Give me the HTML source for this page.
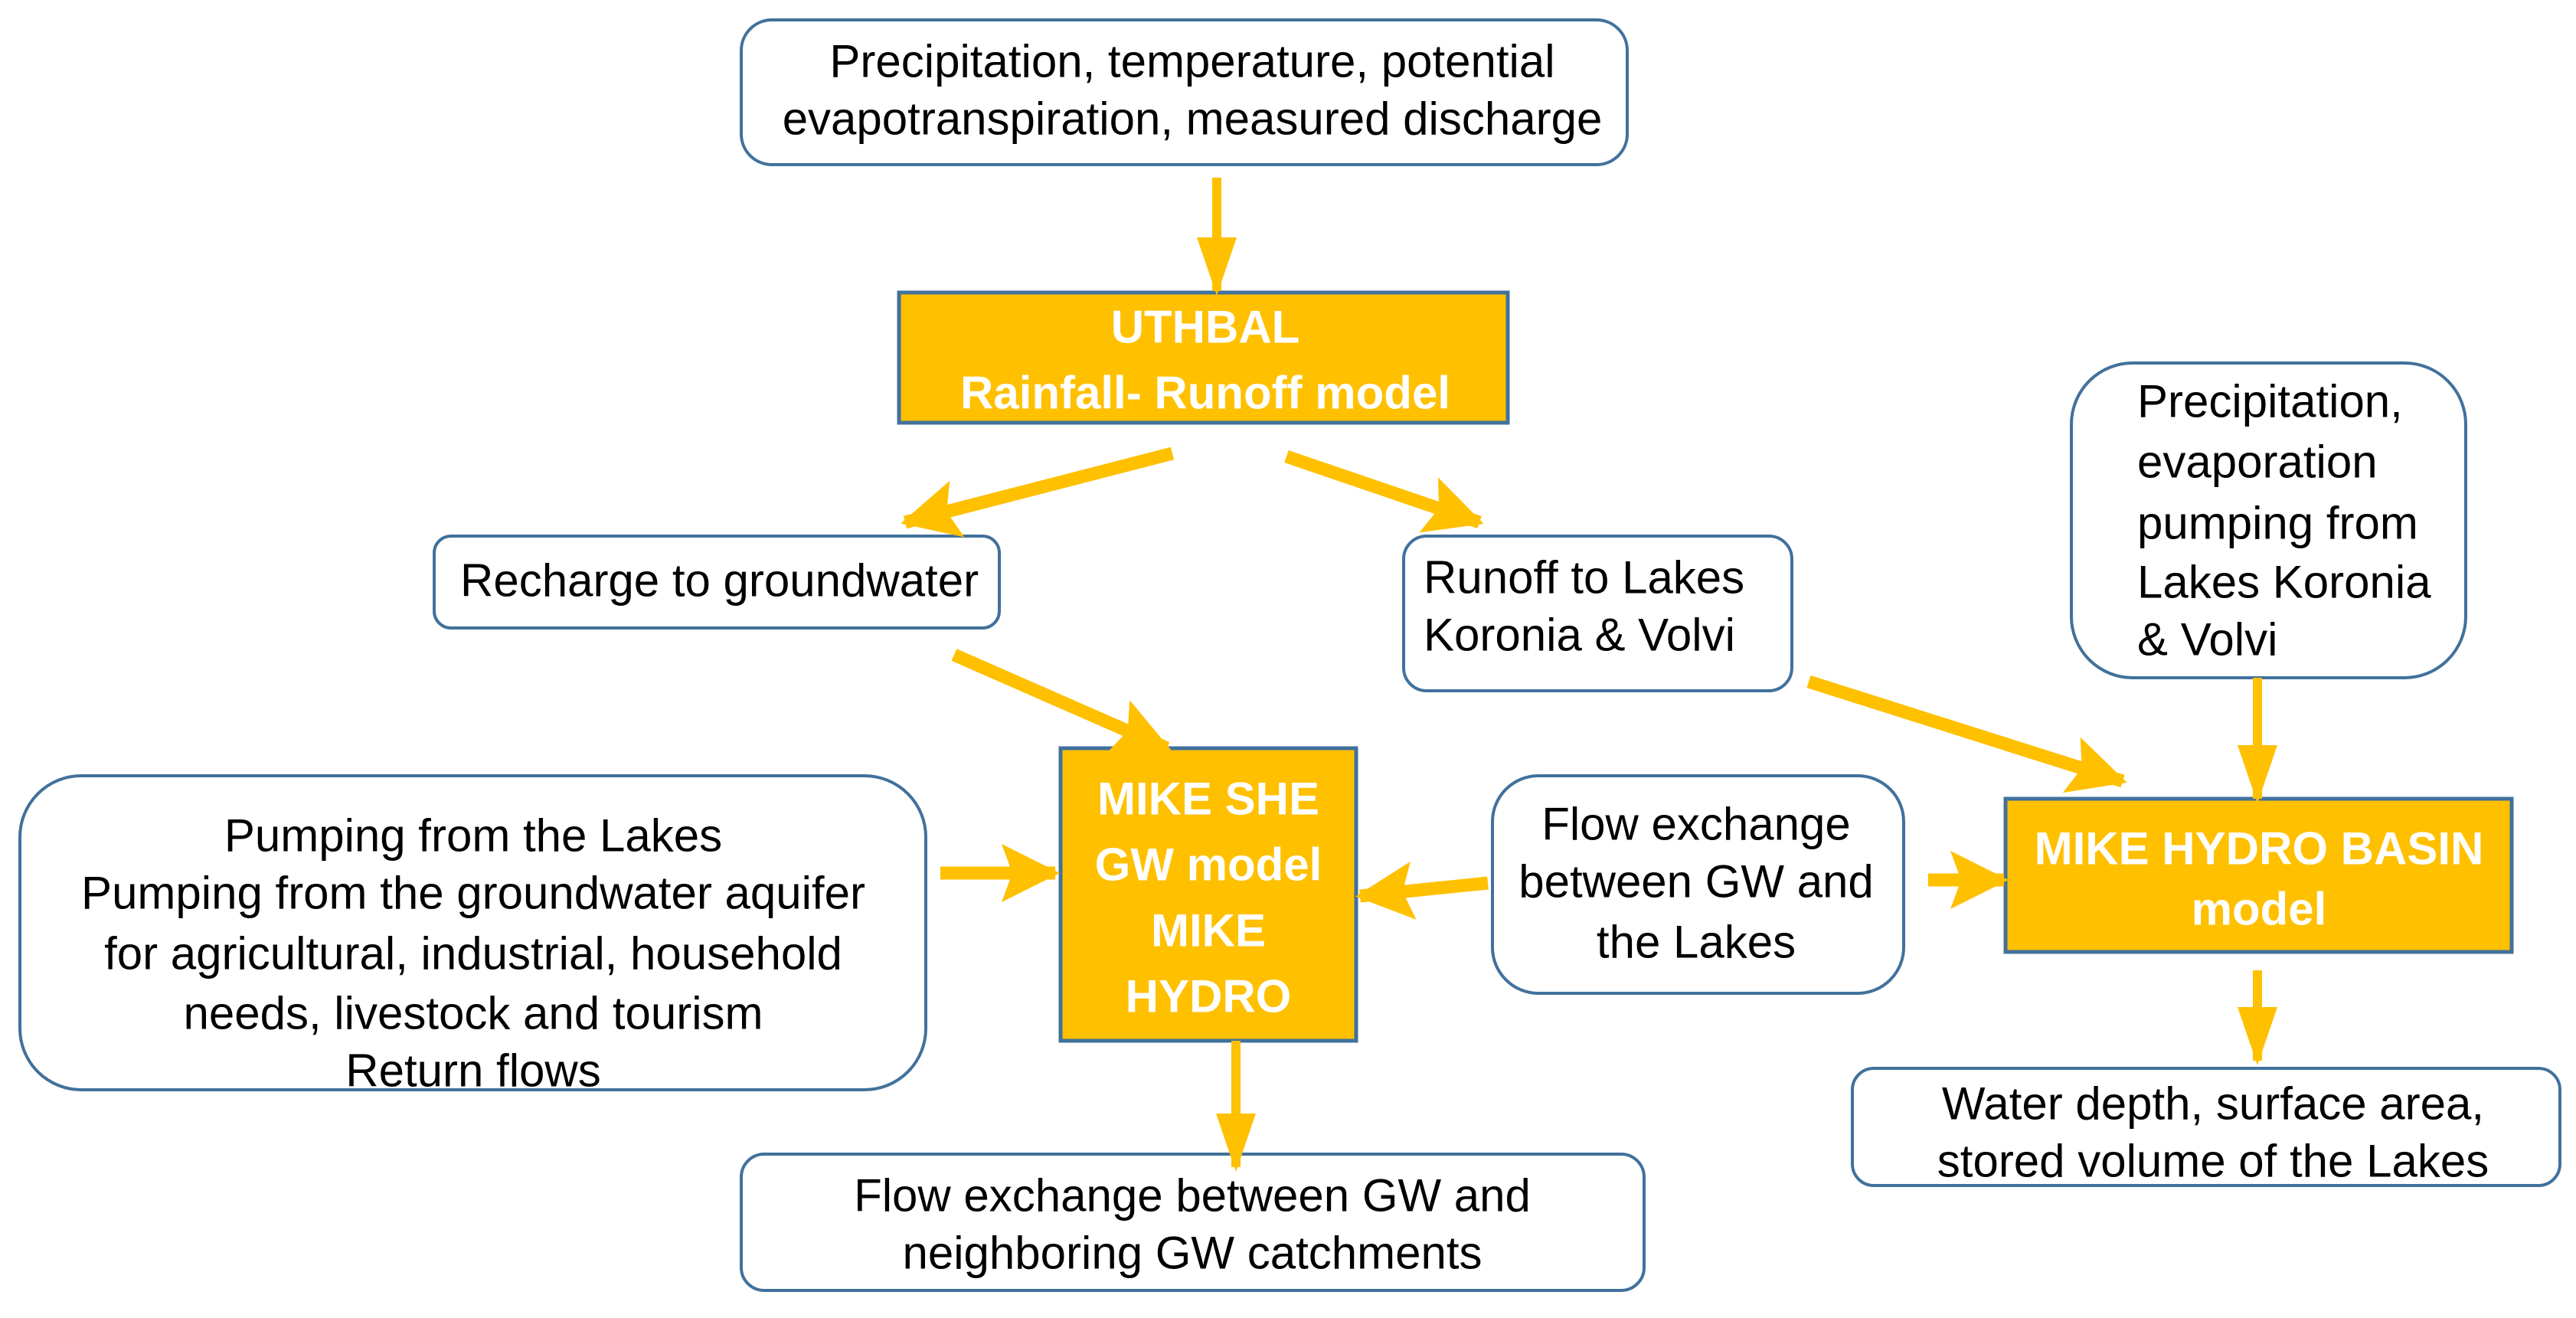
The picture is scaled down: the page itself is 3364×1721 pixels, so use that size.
<!DOCTYPE html>
<html><head><meta charset="utf-8"><style>
html,body{margin:0;padding:0;background:#fff;}
svg{display:block;}
text{font-family:"Liberation Sans",sans-serif;font-size:60px;fill:#000;dominant-baseline:central;}
.c{text-anchor:middle;}
.w{fill:#fff;font-weight:bold;font-size:60px;}
.b{fill:#fff;stroke:#41719C;stroke-width:4;}
.o{fill:#FFC000;stroke:#41719C;stroke-width:5;}
.a{stroke:#FFC000;fill:none;}
</style></head><body>
<svg width="3364" height="1721" viewBox="0 0 3364 1721" xmlns="http://www.w3.org/2000/svg">
<defs>
<marker id="h" markerUnits="userSpaceOnUse" markerWidth="80" markerHeight="80" refX="70" refY="38" orient="auto" viewBox="0 0 80 76">
<path d="M0,0 L76,38 L0,76 L14,38 Z" fill="#FFC000"/></marker>
<marker id="hs" markerUnits="userSpaceOnUse" markerWidth="80" markerHeight="60" refX="70" refY="26" orient="auto" viewBox="0 0 80 52">
<path d="M0,0 L76,26 L0,52 Z" fill="#FFC000"/></marker>
</defs>

<rect class="b" x="968" y="26" width="1157" height="189" rx="40"/>
<rect class="o" x="1174" y="382" width="795" height="170"/>
<rect class="b" x="567" y="700" width="738" height="120" rx="22"/>
<rect class="b" x="1833" y="700" width="507" height="202" rx="30"/>
<rect class="b" x="2705" y="474" width="515" height="411" rx="80"/>
<rect class="o" x="1385" y="977" width="386" height="382"/>
<rect class="b" x="26" y="1013" width="1183" height="410" rx="80"/>
<rect class="b" x="1949" y="1013" width="537" height="284" rx="60"/>
<rect class="o" x="2619" y="1043" width="661" height="200"/>
<rect class="b" x="2419" y="1395" width="924" height="153" rx="28"/>
<rect class="b" x="968" y="1507" width="1179" height="178" rx="30"/>

<line class="a" stroke-width="12" x1="1589" y1="232" x2="1589" y2="380" marker-end="url(#hs)"/>
<line class="a" stroke-width="17" x1="1531" y1="592" x2="1182" y2="682" marker-end="url(#h)"/>
<line class="a" stroke-width="17" x1="1680" y1="596" x2="1932" y2="682" marker-end="url(#h)"/>
<line class="a" stroke-width="17" x1="1246" y1="855" x2="1524" y2="977" marker-end="url(#h)"/>
<line class="a" stroke-width="17" x1="2362" y1="890" x2="2772" y2="1020" marker-end="url(#h)"/>
<line class="a" stroke-width="12" x1="2948" y1="885" x2="2948" y2="1043" marker-end="url(#hs)"/>
<line class="a" stroke-width="17" x1="1228" y1="1140" x2="1378" y2="1140" marker-end="url(#h)"/>
<line class="a" stroke-width="17" x1="1943" y1="1153" x2="1776" y2="1170" marker-end="url(#h)"/>
<line class="a" stroke-width="17" x1="2518" y1="1149" x2="2617" y2="1149" marker-end="url(#h)"/>
<line class="a" stroke-width="12" x1="2948" y1="1267" x2="2948" y2="1385" marker-end="url(#hs)"/>
<line class="a" stroke-width="12" x1="1614" y1="1359" x2="1614" y2="1524" marker-end="url(#hs)"/>

<text class="c" x="1557" y="80">Precipitation, temperature, potential</text>
<text class="c" x="1557" y="155">evapotranspiration, measured discharge</text>
<text class="c w" x="1574" y="427">UTHBAL</text>
<text class="c w" x="1574" y="513">Rainfall- Runoff model</text>
<text x="601" y="758">Recharge to groundwater</text>
<text x="1859" y="754">Runoff to Lakes</text>
<text x="1859" y="829">Koronia &amp; Volvi</text>
<text x="2791" y="524">Precipitation,</text>
<text x="2791" y="603">evaporation</text>
<text x="2791" y="683">pumping from</text>
<text x="2791" y="760">Lakes Koronia</text>
<text x="2791" y="835">&amp; Volvi</text>
<text class="c" x="618" y="1091">Pumping from the Lakes</text>
<text class="c" x="618" y="1166">Pumping from the groundwater aquifer</text>
<text class="c" x="618" y="1245">for agricultural, industrial, household</text>
<text class="c" x="618" y="1323">needs, livestock and tourism</text>
<text class="c" x="618" y="1398">Return flows</text>
<text class="c w" x="1578" y="1043">MIKE SHE</text>
<text class="c w" x="1578" y="1129">GW model</text>
<text class="c w" x="1578" y="1215">MIKE</text>
<text class="c w" x="1578" y="1301">HYDRO</text>
<text class="c" x="2215" y="1076">Flow exchange</text>
<text class="c" x="2215" y="1151">between GW and</text>
<text class="c" x="2215" y="1230">the Lakes</text>
<text class="c w" x="2950" y="1108">MIKE HYDRO BASIN</text>
<text class="c w" x="2950" y="1187">model</text>
<text class="c" x="2890" y="1441">Water depth, surface area,</text>
<text class="c" x="2890" y="1516">stored volume of the Lakes</text>
<text class="c" x="1557" y="1561">Flow exchange between GW and</text>
<text class="c" x="1557" y="1636">neighboring GW catchments</text>
</svg>
</body></html>
